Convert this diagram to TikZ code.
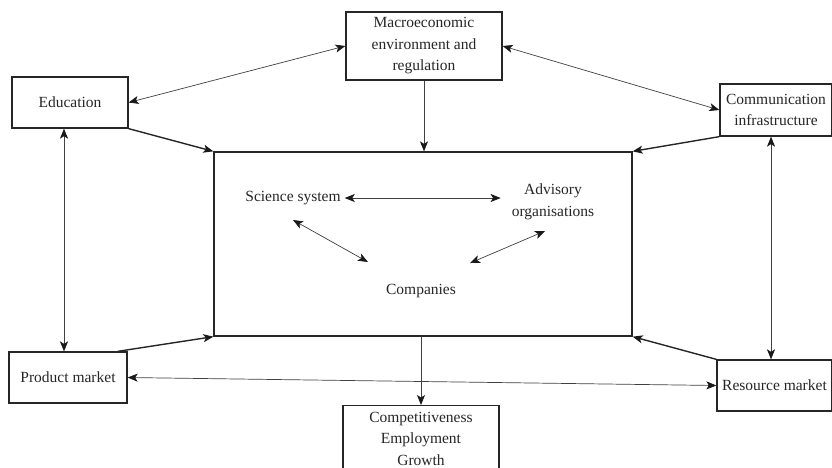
\documentclass[tikz,border=0pt]{standalone}
\usepackage{fontspec}
\setmainfont{Liberation Serif}
\usetikzlibrary{arrows.meta,calc}
\begin{document}
\begin{tikzpicture}[x=1pt,y=-1pt,
  tip/.tip={Stealth[length=10pt,width=8pt,inset=2.5pt]},
  box/.style={draw=black!85,line width=1.3pt,rectangle,inner sep=0pt,align=center,
    font=\fontsize{15.5}{21.5}\selectfont,text=black!85},
  lbl/.style={inner sep=3pt,align=center,font=\fontsize{15.5}{21.5}\selectfont,text=black!85},
  thin/.style={draw=black!75,line width=0.7pt,{tip[black!90]}-{tip[black!90]}},
  thick/.style={draw=black!85,line width=1.4pt,-{tip[black!90]}},
  one/.style={draw=black!75,line width=1pt,-{tip[black!90]}}]
\clip (0,0) rectangle (832,467);
\fill[white] (0,0) rectangle (832,467);
% boxes
\node[box,minimum width=156,minimum height=68] (macro) at (424,46) {Macroeconomic\\environment and\\regulation};
\node[box,minimum width=116,minimum height=51] (edu) at (70,102.5) {Education};
\node[box,minimum width=112,minimum height=52] (comm) at (776,110) {Communication\\infrastructure};
\node[box,minimum width=118,minimum height=51] (prod) at (68,377.5) {Product market};
\node[box,minimum width=115,minimum height=51] (res) at (774.5,385.5) {Resource market};
\node[box,minimum width=156,minimum height=66,anchor=north] (compet) at (421,405) {Competitiveness\\Employment\\Growth};
\node[box,minimum width=418,minimum height=184] (main) at (423,244) {};
% inner labels
\node[lbl] (sci) at (293,198) {Science system};
\node[lbl] (adv) at (553,202) {Advisory\\organisations};
\node[lbl] (cos) at (421,291) {Companies};
% connectors
\draw[thin] (macro.west) -- (edu.east);
\draw[thin] (macro.east) -- (comm.west);
\draw[thin] ([xshift=-6]edu.south) -- ([xshift=-4]prod.north);
\draw[thin] ([xshift=-5]comm.south) -- ([xshift=-3.5]res.north);
\draw[thin] (prod.east) -- (res.west);
\draw[one] (macro.south) -- (macro.south |- main.north);
\draw[thick] (edu.south east) -- (main.north west);
\draw[thick] (comm.south west) -- (main.north east);
\draw[thick] ([xshift=-10]prod.north east) -- (main.south west);
\draw[thick] (res.north west) -- (main.south east);
\draw[one] (compet.north |- main.south) -- (compet.north);
\draw[thin] ([xshift=1]sci.east) -- ([xshift=-8]sci.east -| adv.west);
\draw[thin] ([shift={(0,12)}]sci.south) -- ([shift={(-15,-19)}]cos.north west);
\draw[thin] ([shift={(-8,8)}]adv.south) -- ([shift={(11,-18)}]cos.north east);
\end{tikzpicture}
\end{document}
